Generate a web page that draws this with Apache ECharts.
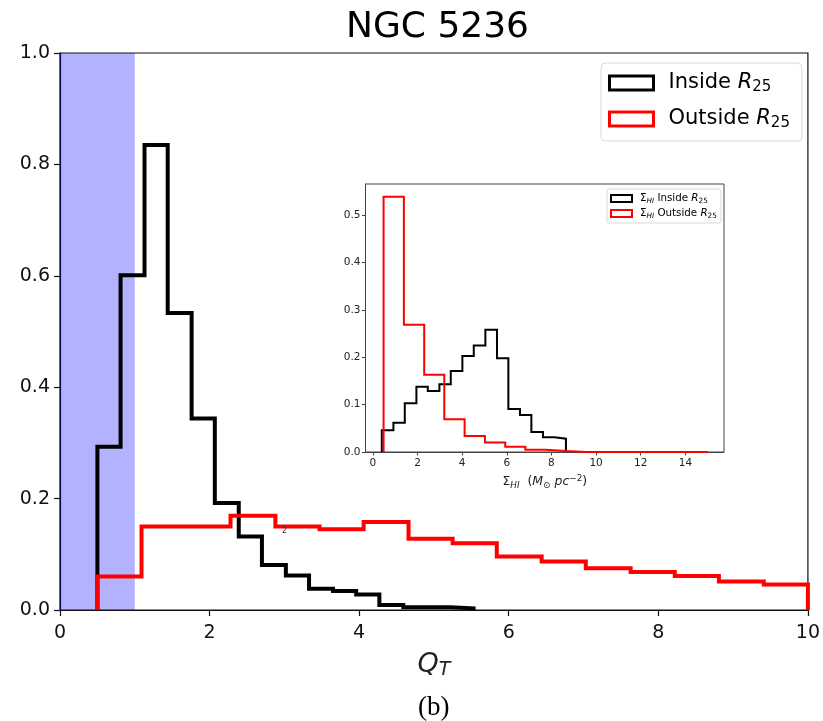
<!DOCTYPE html>
<html>
<head>
<meta charset="utf-8">
<script src="https://cdn.jsdelivr.net/npm/echarts@6/dist/echarts.min.js"></script>
<style>
  html, body { margin: 0; padding: 0; background: #fff; }
  #chart { width: 823px; height: 721px; }
</style>
</head>
<body>
<div id="chart"></div>
<script>
// main panel: Q_T histograms (bin edges + heights)
const qInsideEdges = [0.50, 0.81, 1.13, 1.44, 1.76, 2.07, 2.39, 2.70, 3.02, 3.33, 3.65, 3.96, 4.27, 4.59, 4.90, 5.22, 5.53];
const qInsideValues = [0.293, 0.601, 0.835, 0.533, 0.344, 0.192, 0.132, 0.081, 0.062, 0.038, 0.034, 0.028, 0.009, 0.005, 0.005, 0.003];
const qOutsideEdges = [0.50, 1.09, 1.69, 2.28, 2.88, 3.47, 4.06, 4.66, 5.25, 5.84, 6.44, 7.03, 7.63, 8.22, 8.81, 9.41, 10.00];
const qOutsideValues = [0.060, 0.150, 0.150, 0.169, 0.150, 0.145, 0.158, 0.128, 0.120, 0.096, 0.087, 0.075, 0.068, 0.061, 0.051, 0.046];

// inset: Sigma_HI histograms
const sInsideEdges = [0.40, 0.92, 1.43, 1.95, 2.46, 2.98, 3.49, 4.01, 4.52, 5.04, 5.56, 6.07, 6.59, 7.10, 7.62, 8.13, 8.65];
const sInsideValues = [0.046, 0.062, 0.103, 0.138, 0.129, 0.143, 0.171, 0.203, 0.225, 0.258, 0.198, 0.091, 0.078, 0.042, 0.031, 0.028];
const sOutsideEdges = [0.48, 1.39, 2.30, 3.20, 4.11, 5.02, 5.93, 6.83, 7.74, 8.65, 9.55, 10.46, 11.37, 12.28, 13.18, 14.09, 15.00];
const sOutsideValues = [0.539, 0.269, 0.163, 0.069, 0.034, 0.020, 0.011, 0.005, 0.002, 0, 0, 0, 0, 0, 0, 0];

// ticks
const qXTicks = [0, 2, 4, 6, 8, 10];
const qYTicks = [0, 0.2, 0.4, 0.6, 0.8, 1.0];
const sXTicks = [0, 2, 4, 6, 8, 10, 12, 14];
const sYTicks = [0, 0.1, 0.2, 0.3, 0.4, 0.5];

// Q_T < 1 shaded band
const shadeBand = [0, 1];

const FONT = 'DejaVu Sans';

// outline of a histtype='step' histogram
function stepPoints(edges, values) {
  const pts = [[edges[0], 0]];
  values.forEach((v, i) => {
    pts.push([edges[i], v]);
    pts.push([edges[i + 1], v]);
  });
  pts.push([edges[edges.length - 1], 0]);
  return pts;
}

const chart = echarts.init(document.getElementById('chart'), null, { renderer: 'canvas' });

const legendNames = {
  qin: 'Inside {it|R}{sub|25}',
  qout: 'Outside {it|R}{sub|25}',
  sin: 'Σ{sub|HI} Inside {it|R}{sub2|25}',
  sout: 'Σ{sub|HI} Outside {it|R}{sub2|25}'
};

const option = {
  animation: false,
  title: [
    {
      text: 'NGC 5236',
      left: 341,
      top: 5,
      textStyle: { fontFamily: FONT, fontSize: 36, fontWeight: 'normal', color: '#000' }
    },
    {
      text: '(b)',
      left: 413,
      top: 689,
      textStyle: { fontFamily: 'Liberation Serif', fontSize: 27, fontWeight: 'normal', color: '#000' }
    },
    {
      text: '2',
      left: 277,
      top: 522,
      textStyle: { fontFamily: FONT, fontSize: 8, fontWeight: 'normal', color: '#333' }
    }
  ],
  legend: [
    {
      data: [
        { name: 'qin', itemStyle: { color: '#fff', borderColor: '#000', borderWidth: 3 } },
        { name: 'qout', itemStyle: { color: '#fff', borderColor: '#ff0000', borderWidth: 3 } }
      ],
      formatter: n => legendNames[n],
      orient: 'vertical',
      left: 601,
      top: 63,
      icon: 'rect',
      itemWidth: 44,
      itemHeight: 14,
      itemGap: 12,
      padding: [8, 12, 10, 7],
      backgroundColor: '#fff',
      borderColor: '#d9d9d9',
      borderWidth: 1,
      borderRadius: 4,
      selectedMode: false,
      textStyle: {
        fontFamily: FONT, fontSize: 21, color: '#000', lineHeight: 24, padding: [0, 0, 0, 10],
        rich: {
          it: { fontFamily: FONT, fontSize: 21, fontStyle: 'italic', color: '#000', lineHeight: 24 },
          sub: { fontFamily: FONT, fontSize: 15, color: '#000', verticalAlign: 'bottom', lineHeight: 24 }
        }
      }
    },
    {
      data: [
        { name: 'sin', itemStyle: { color: '#fff', borderColor: '#000', borderWidth: 2 } },
        { name: 'sout', itemStyle: { color: '#fff', borderColor: '#ff0000', borderWidth: 2 } }
      ],
      formatter: n => legendNames[n],
      orient: 'vertical',
      left: 607,
      top: 189,
      icon: 'rect',
      itemWidth: 21,
      itemHeight: 7,
      itemGap: 2,
      padding: [3, 4, 3, 3],
      backgroundColor: '#fff',
      borderColor: '#d9d9d9',
      borderWidth: 1,
      borderRadius: 2,
      selectedMode: false,
      textStyle: {
        fontFamily: FONT, fontSize: 10.3, color: '#000', lineHeight: 13, padding: [0, 0, 0, 3],
        rich: {
          it: { fontFamily: FONT, fontSize: 10.3, fontStyle: 'italic', color: '#000', lineHeight: 13 },
          sub: { fontFamily: FONT, fontSize: 7.3, fontStyle: 'italic', color: '#000', verticalAlign: 'bottom', lineHeight: 13 },
          sub2: { fontFamily: FONT, fontSize: 7.3, color: '#000', verticalAlign: 'bottom', lineHeight: 13 }
        }
      }
    }
  ],
  grid: [
    { left: 60, top: 53, width: 750, height: 557, show: true, backgroundColor: '#fff', borderColor: '#111', borderWidth: 1.2 },
    { left: 365.5, top: 184, width: 358.5, height: 268, show: true, backgroundColor: '#fff', borderColor: '#444', borderWidth: 1 }
  ],
  xAxis: [
    {
      type: 'value', gridIndex: 0, min: 0, max: 10, interval: 2,
      axisLine: { show: true, onZero: false, lineStyle: { color: '#111', width: 1.2 } },
      axisTick: { show: true, length: 6, lineStyle: { color: '#111', width: 1.2 }, customValues: qXTicks },
      axisLabel: { fontFamily: FONT, fontSize: 19, color: '#111', margin: 14, customValues: qXTicks },
      splitLine: { show: false },
      name: '{it|Q}{sub|T}',
      nameLocation: 'middle',
      nameGap: 40,
      nameTextStyle: {
        fontFamily: FONT, fontSize: 27, color: '#222', lineHeight: 30,
        rich: {
          it: { fontFamily: FONT, fontSize: 27, fontStyle: 'italic', color: '#222', lineHeight: 30 },
          sub: { fontFamily: FONT, fontSize: 19, fontStyle: 'italic', color: '#222', verticalAlign: 'bottom', lineHeight: 30 }
        }
      }
    },
    {
      type: 'value', gridIndex: 1, min: -0.33, max: 15.73,
      axisLine: { show: true, onZero: false, lineStyle: { color: '#444', width: 1 } },
      axisTick: { show: true, length: 3.5, lineStyle: { color: '#444', width: 1 }, customValues: sXTicks },
      axisLabel: { fontFamily: FONT, fontSize: 10.5, color: '#222', margin: 6, customValues: sXTicks },
      splitLine: { show: false },
      name: 'Σ{sub|HI}  ({it|M}{sub2|⊙} {it|pc}{sup|−2})',
      nameLocation: 'middle',
      nameGap: 22,
      nameTextStyle: {
        fontFamily: FONT, fontSize: 12.5, color: '#222', lineHeight: 16,
        rich: {
          it: { fontFamily: FONT, fontSize: 12.5, fontStyle: 'italic', color: '#222', lineHeight: 16 },
          sub: { fontFamily: FONT, fontSize: 8.8, fontStyle: 'italic', color: '#222', verticalAlign: 'bottom', lineHeight: 16 },
          sub2: { fontFamily: FONT, fontSize: 8.8, color: '#222', verticalAlign: 'bottom', lineHeight: 16 },
          sup: { fontFamily: FONT, fontSize: 8.8, color: '#222', verticalAlign: 'top', lineHeight: 16 }
        }
      }
    }
  ],
  yAxis: [
    {
      type: 'value', gridIndex: 0, min: 0, max: 1.0, interval: 0.2,
      axisLine: { show: true, onZero: false, lineStyle: { color: '#111', width: 1.2 } },
      axisTick: { show: true, length: 6, lineStyle: { color: '#111', width: 1.2 }, customValues: qYTicks },
      axisLabel: { fontFamily: FONT, fontSize: 19, color: '#111', margin: 10, customValues: qYTicks, formatter: v => v.toFixed(1) },
      splitLine: { show: false }
    },
    {
      type: 'value', gridIndex: 1, min: 0, max: 0.566,
      axisLine: { show: true, onZero: false, lineStyle: { color: '#444', width: 1 } },
      axisTick: { show: true, length: 3.5, lineStyle: { color: '#444', width: 1 }, customValues: sYTicks },
      axisLabel: { fontFamily: FONT, fontSize: 10.5, color: '#222', margin: 5, customValues: sYTicks, formatter: v => v.toFixed(1) },
      splitLine: { show: false }
    }
  ],
  series: [
    {
      name: 'shade', type: 'line', xAxisIndex: 0, yAxisIndex: 0, data: [], z: 1, silent: true,
      markArea: {
        silent: true,
        itemStyle: { color: 'rgba(0,0,255,0.3)' },
        data: [[{ xAxis: shadeBand[0] }, { xAxis: shadeBand[1] }]]
      }
    },
    {
      name: 'qin', type: 'line', xAxisIndex: 0, yAxisIndex: 0, z: 3,
      data: stepPoints(qInsideEdges, qInsideValues),
      showSymbol: false, symbol: 'none', silent: true,
      itemStyle: { color: '#000' },
      lineStyle: { color: '#000', width: 4, join: 'miter', cap: 'butt' }
    },
    {
      name: 'qout', type: 'line', xAxisIndex: 0, yAxisIndex: 0, z: 4,
      data: stepPoints(qOutsideEdges, qOutsideValues),
      showSymbol: false, symbol: 'none', silent: true,
      itemStyle: { color: '#ff0000' },
      lineStyle: { color: '#ff0000', width: 4, join: 'miter', cap: 'butt' }
    },
    {
      name: 'sin', type: 'line', xAxisIndex: 1, yAxisIndex: 1, z: 5,
      data: stepPoints(sInsideEdges, sInsideValues),
      showSymbol: false, symbol: 'none', silent: true,
      itemStyle: { color: '#000' },
      lineStyle: { color: '#000', width: 2, join: 'miter', cap: 'butt' }
    },
    {
      name: 'sout', type: 'line', xAxisIndex: 1, yAxisIndex: 1, z: 6,
      data: stepPoints(sOutsideEdges, sOutsideValues),
      showSymbol: false, symbol: 'none', silent: true,
      itemStyle: { color: '#ff0000' },
      lineStyle: { color: '#ff0000', width: 2, join: 'miter', cap: 'butt' }
    }
  ]
};

chart.setOption(option);
window.addEventListener('resize', () => chart.resize());
</script>
</body>
</html>
